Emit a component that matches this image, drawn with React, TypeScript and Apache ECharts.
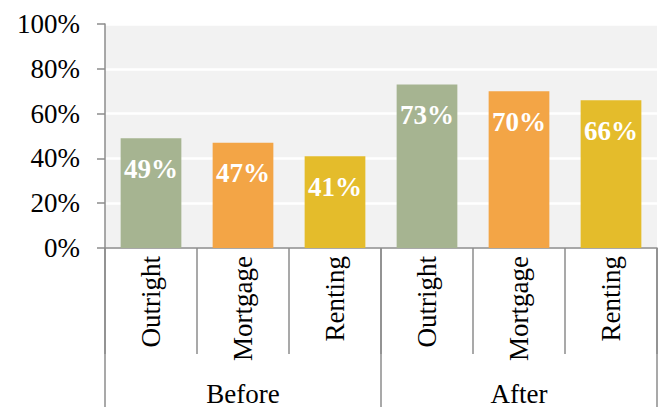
import React, { useEffect, useRef } from "react";
import * as echarts from "echarts";

const subCategories = ["Outright", "Mortgage", "Renting", "Outright", "Mortgage", "Renting"];
const groups = ["Before", "After"];
const values = [0.49, 0.47, 0.41, 0.73, 0.70, 0.66];
const barColors = ["#a6b491", "#f3a546", "#e4bc2b", "#a6b491", "#f3a546", "#e4bc2b"];
const yTicks = { min: 0, max: 1, interval: 0.2 };

const FONT = "Liberation Serif";
const AXIS_COLOR = "#8c8c8c";

export default function App() {
  const ref = useRef<HTMLDivElement>(null);
  useEffect(() => {
    if (!ref.current) return;
    const chart = echarts.init(ref.current, null, { renderer: "svg" });
    chart.setOption({
      animation: false,
      grid: {
        left: 105,
        right: 6,
        top: 24,
        bottom: 158,
        show: true,
        backgroundColor: "#f2f2f2",
        borderWidth: 0,
      },
      xAxis: [
        {
          type: "category",
          data: subCategories,
          position: "bottom",
          axisLine: { show: true, lineStyle: { color: AXIS_COLOR, width: 1.5 } },
          axisTick: { show: true, interval: 0, length: 106, lineStyle: { color: AXIS_COLOR, width: 1.5 } },
          axisLabel: {
            interval: 0,
            rotate: 90,
            margin: 8,
            fontFamily: FONT,
            fontSize: 27,
            color: "#000",
          },
        },
        {
          type: "category",
          data: groups,
          position: "bottom",
          axisLine: { show: false },
          axisTick: { show: true, interval: 0, length: 160, lineStyle: { color: AXIS_COLOR, width: 1.5 } },
          axisLabel: {
            interval: 0,
            margin: 132,
            fontFamily: FONT,
            fontSize: 27,
            color: "#000",
          },
        },
      ],
      yAxis: {
        type: "value",
        min: yTicks.min,
        max: yTicks.max,
        interval: yTicks.interval,
        axisLine: { show: true, lineStyle: { color: AXIS_COLOR, width: 1.5 } },
        axisTick: { show: true, length: 8, lineStyle: { color: AXIS_COLOR, width: 1.5 } },
        splitLine: { show: true, lineStyle: { color: "#ffffff", width: 2.5 } },
        axisLabel: {
          margin: 25,
          fontFamily: FONT,
          fontSize: 27,
          color: "#000",
          formatter: (v: number) => `${Math.round(v * 100)}%`,
        },
      },
      series: [
        {
          type: "bar",
          xAxisIndex: 0,
          barCategoryGap: "34%",
          data: values.map((v, i) => ({ value: v, itemStyle: { color: barColors[i] } })),
          label: {
            show: true,
            position: "insideTop",
            distance: 17,
            fontFamily: FONT,
            fontWeight: "bold",
            fontSize: 27,
            color: "#ffffff",
            formatter: (p: any) => `${Math.round(p.value * 100)}%`,
          },
        },
      ],
    });
    return () => chart.dispose();
  }, []);
  return <div ref={ref} style={{ width: 663, height: 407, position: "absolute", left: 0, top: 0 }} />;
}
